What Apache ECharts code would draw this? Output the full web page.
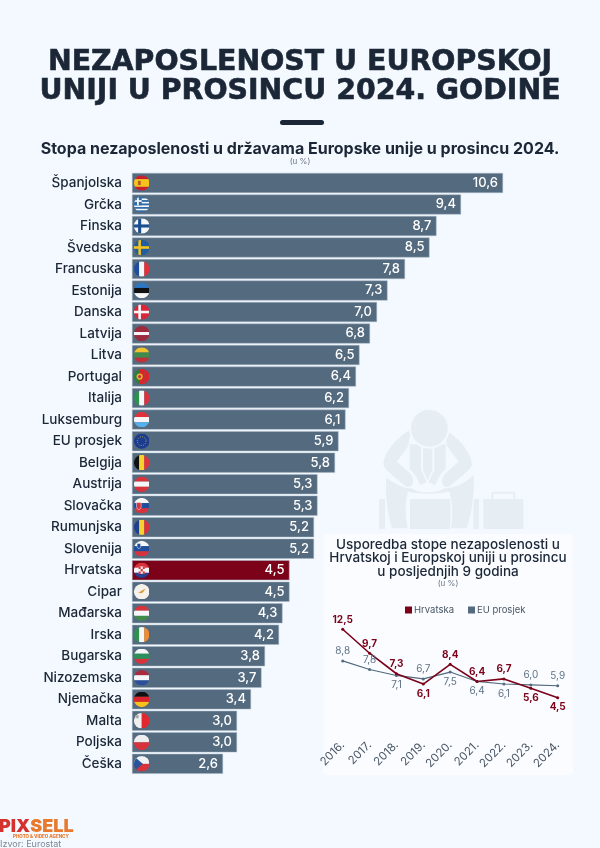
<!DOCTYPE html>
<html>
<head>
<meta charset="utf-8">
<style>html,body{margin:0;padding:0;background:#f3f9fe}#main{width:600px;height:848px}</style>
<script src="https://cdn.jsdelivr.net/npm/echarts@6/dist/echarts.min.js"></script>
</head>
<body>
<div id="main"></div>
<script>
var countries = ["Španjolska","Grčka","Finska","Švedska","Francuska","Estonija","Danska","Latvija","Litva","Portugal","Italija","Luksemburg","EU prosjek","Belgija","Austrija","Slovačka","Rumunjska","Slovenija","Hrvatska","Cipar","Mađarska","Irska","Bugarska","Nizozemska","Njemačka","Malta","Poljska","Češka"];
var rates = [10.6,9.4,8.7,8.5,7.8,7.3,7.0,6.8,6.5,6.4,6.2,6.1,5.9,5.8,5.3,5.3,5.2,5.2,4.5,4.5,4.3,4.2,3.8,3.7,3.4,3.0,3.0,2.6];
var years = ["2016.","2017.","2018.","2019.","2020.","2021.","2022.","2023.","2024."];
var hrvatska = [12.5,9.7,7.3,6.1,8.4,6.4,6.7,5.6,4.5];
var euProsjek = [8.8,7.8,7.1,6.7,7.5,6.4,6.1,6.0,5.9];
var hrLabelPos = ["top","top","top","bottom","top","top","top","bottom","bottom"];
var euLabelPos = ["top","top","bottom","top","bottom","bottom","bottom","top","top"];

var FONT = "Inter";
var BG = "#f3f9fe";
var DARK = "#1b2636";
var SLATE = "#546a7f";
var WINE = "#7b0219";
var GHOST = "#e6edf3";

// flags, drawn in a 30x30 box and clipped to a circle
function hs(c) { // horizontal stripes
    var h = 30 / c.length, s = "";
    c.forEach(function (x, i) { s += '<rect y="' + i * h + '" width="30" height="' + (h + 0.2) + '" fill="' + x + '"/>'; });
    return s;
}
function vs(c) { // vertical stripes
    var w = 30 / c.length, s = "";
    c.forEach(function (x, i) { s += '<rect x="' + i * w + '" width="' + (w + 0.2) + '" height="30" fill="' + x + '"/>'; });
    return s;
}
function cross(bg, col, w) {
    var s = '<rect width="30" height="30" fill="' + bg + '"/>';
    s += '<rect x="' + (11 - w / 2) + '" width="' + w + '" height="30" fill="' + col + '"/><rect y="' + (15 - w / 2) + '" width="30" height="' + w + '" fill="' + col + '"/>';
    return s;
}
var flags = {
    "Španjolska": hs(["#c8202c","#f6c21c","#f6c21c","#c8202c"]) + '<rect x="8" y="11" width="5" height="8" fill="#b5562a"/>',
    "Grčka": hs(["#2f6cae","#f4f8fb","#2f6cae","#f4f8fb","#2f6cae","#f4f8fb","#2f6cae","#f4f8fb","#2f6cae"]) + '<rect width="15" height="16.7" fill="#2f6cae"/><rect x="6" width="3.4" height="16.7" fill="#f4f8fb"/><rect y="6.6" width="15" height="3.4" fill="#f4f8fb"/>',
    "Finska": cross("#f4f6f8","#1c4f8f",6),
    "Švedska": cross("#1f5ea3","#f6c21c",5),
    "Francuska": vs(["#1f4e9c","#f4f6f8","#e1323c"]),
    "Estonija": hs(["#2c78c4","#111111","#f8f8f8"]),
    "Danska": cross("#d8263a","#f4f6f8",5),
    "Latvija": hs(["#9e2b3d","#9e2b3d","#f4f6f8","#9e2b3d","#9e2b3d"]),
    "Litva": hs(["#f2c12e","#3f8a4c","#bf3038"]),
    "Portugal": vs(["#2f7d3a","#d8262c","#d8262c"]) + '<circle cx="11" cy="15" r="6" fill="#e8b62c"/><circle cx="11" cy="15" r="3" fill="#c8303a"/>',
    "Italija": vs(["#2f9150","#f4f6f8","#d8323c"]),
    "Luksemburg": hs(["#e0323c","#f4f6f8","#55b0ec"]),
    "EU prosjek": '<rect width="30" height="30" fill="#1c3d8f"/><circle cx="15" cy="15" r="8.5" fill="none" stroke="#e8c82c" stroke-width="1.6" stroke-dasharray="1.6 2.85"/>',
    "Belgija": vs(["#111111","#f6d22e","#e0323c"]),
    "Austrija": hs(["#d8323c","#f4f6f8","#d8323c"]),
    "Slovačka": hs(["#f4f6f8","#1f4e9c","#d8323c"]) + '<path d="M5 9h9v8q0 4-4.500 6q-4.500-2-4.500-6z" fill="#d8323c" stroke="#f4f6f8"/>',
    "Rumunjska": vs(["#1f3f8f","#f6d22e","#d8323c"]),
    "Slovenija": hs(["#f4f6f8","#1f4e9c","#d8323c"]) + '<path d="M6 5h7v6q0 3-3.500 4q-3.500-1-3.500-4z" fill="#1f4e9c" stroke="#f4f6f8"/>',
    "Hrvatska": hs(["#d8323c","#f4f6f8","#27408f"]) + '<rect x="9" y="8" width="12" height="14" rx="2" fill="#f4f6f8"/><rect x="9" y="8" width="4" height="4.700" fill="#d8323c"/><rect x="17" y="8" width="4" height="4.700" fill="#d8323c"/><rect x="13" y="12.700" width="4" height="4.700" fill="#d8323c"/><rect x="9" y="17.400" width="4" height="4.600" fill="#d8323c"/><rect x="17" y="17.400" width="4" height="4.600" fill="#d8323c"/>',
    "Cipar": '<rect width="30" height="30" fill="#f4f2ea"/><path d="M8 16q6-1 8-4l7-3-4 5q-2 4-6 4z" fill="#d89a3c"/>',
    "Mađarska": hs(["#d8323c","#f4f6f8","#3f8a4c"]),
    "Irska": vs(["#2f9150","#f4f6f8","#f08c32"]),
    "Bugarska": hs(["#f4f6f8","#2f8f5c","#d8323c"]),
    "Nizozemska": hs(["#ab2b3d","#f4f6f8","#2a4f9c"]),
    "Njemačka": hs(["#111111","#d8262c","#f6c21c"]),
    "Malta": vs(["#f0eeee","#e0282e"]) + '<rect x="3" y="4" width="6" height="6" fill="#a8a8a8"/>',
    "Poljska": hs(["#eeeeee","#d8323c"]),
    "Češka": hs(["#f0f2f5","#d8323c"]) + '<path d="M0 0L17 15L0 30z" fill="#27559c"/>'
};
function svgUri(svg) {
    return "data:image/svg+xml;charset=utf-8," + encodeURIComponent(svg);
}
function flagIcon(name) {
    var svg = '<svg xmlns="http://www.w3.org/2000/svg" width="60" height="60" viewBox="0 0 30 30"><defs><clipPath id="c"><circle cx="15" cy="15" r="15"/></clipPath></defs><g clip-path="url(#c)">' + flags[name] + '</g></svg>';
    return "image://" + svgUri(svg);
}

// man with the briefcase behind the small chart
var half = '<path d="M108 72C70 95 30 135 25 178C28 195 75 230 95 245C115 250 122 225 105 205L65 170L100 122Z"/>'
    + '<path d="M104 118L138 118L138 195L156 232L135 240C128 222 120 205 106 195L104 190Z"/>';
var figure = '<svg xmlns="http://www.w3.org/2000/svg" width="465" height="390" viewBox="0 0 465 390" fill="' + GHOST + '">'
    + '<rect x="12" y="282" width="18" height="90"/><rect x="295" y="282" width="17" height="90"/><rect x="105" y="282" width="122" height="90"/>'
    + '<path d="M32 215C28 260 35 330 50 372L100 372C92 330 92 290 100 262C130 270 190 270 222 262C230 290 232 330 226 372L276 372C292 330 302 260 298 205C270 235 235 250 205 248C190 264 130 264 112 248C90 250 60 235 32 215Z" stroke="' + BG + '" stroke-width="4"/>'
    + half + '<g transform="matrix(-1 0 0 1 316 0)">' + half + '</g>'
    + '<path d="M144 122L172 122L172 195L158 226L144 195Z"/>'
    + '<circle cx="163" cy="70" r="58" stroke="' + BG + '" stroke-width="6"/>'
    + '<rect x="325" y="282" width="120" height="90" rx="3"/><rect x="352" y="263" width="66" height="22" rx="3" fill="none" stroke="' + GHOST + '" stroke-width="6"/>'
    + '</svg>';

var chart = echarts.init(document.getElementById("main"));

function txt(t, top, size, weight, color, left, align, font) {
    return {
        text: t, left: left === undefined ? 300 : left, top: top, textAlign: align || "center", padding: 0,
        textStyle: { fontFamily: font || FONT, fontSize: size, fontWeight: weight, color: color, lineHeight: size + 1 }
    };
}
function headline(t, top) {
    var o = txt(t, top, 28.4, 700, DARK, 300, "center", "DejaVu Sans");
    o.textStyle.textBorderColor = DARK;
    o.textStyle.textBorderWidth = 0.6;
    return o;
}
function comma(p) {
    return p.value.toFixed(1).replace(".", ",");
}
function lineSeries(name, values, pos, color, labelColor, width, weight) {
    return {
        name: name, type: "line", xAxisIndex: 1, yAxisIndex: 1,
        symbol: "circle", symbolSize: 3,
        itemStyle: { color: color }, lineStyle: { color: color, width: width },
        data: values.map(function (v, i) {
            return {
                value: v,
                label: { show: true, position: pos[i], distance: 3, color: labelColor, fontFamily: FONT, fontSize: 10, fontWeight: weight, formatter: comma }
            };
        })
    };
}

var logo = txt("{a|PIX}{b|SELL}", 817, 18, 900, "#d5322e", -1, "left");
logo.textStyle.rich = {
    a: { fontFamily: FONT, fontSize: 18, fontWeight: 900, color: "#d5322e" },
    b: { fontFamily: FONT, fontSize: 18, fontWeight: 900, color: "#e9792e" }
};

option = {
    backgroundColor: BG,
    animation: false,
    title: [
        headline("NEZAPOSLENOST U EUROPSKOJ", 48),
        headline("UNIJI U PROSINCU 2024. GODINE", 77),
        txt("Stopa nezaposlenosti u državama Europske unije u prosincu 2024.", 141, 16, 700, DARK),
        txt("(u %)", 157, 8, 400, "#6b7785"),
        txt("Usporedba stope nezaposlenosti u", 538, 13.5, 500, DARK, 448),
        txt("Hrvatskoj i Europskoj uniji u prosincu", 551, 13.5, 500, DARK, 448),
        txt("u posljednjih 9 godina", 565, 13.5, 500, DARK, 448),
        txt("(u %)", 579, 8, 400, "#6b7785", 448),
        logo,
        txt("PHOTO & VIDEO AGENCY", 834, 4.5, 800, "#e9792e", 13, "left"),
        txt("Izvor: Eurostat", 839, 9, 400, "#7d8793", 0, "left")
    ],
    graphic: [
        // dash under the title
        { type: "rect", z: -1, shape: { x: 280, y: 120, width: 44, height: 5, r: 2.5 }, style: { fill: DARK } },
        { type: "image", z: -2, style: { image: svgUri(figure), x: 375, y: 405, width: 155, height: 130 } },
        // white card of the small chart
        { type: "rect", z: -1, shape: { x: 323, y: 534, width: 250, height: 241, r: 4 }, style: { fill: "#fafcff" } }
    ],
    legend: {
        data: ["Hrvatska", "EU prosjek"],
        left: 405, top: 605, padding: 0,
        icon: "rect", itemWidth: 7, itemHeight: 7, itemGap: 14,
        textStyle: { fontFamily: FONT, fontSize: 9.5, color: "#4a5664", padding: [0, 0, 0, -3] }
    },
    grid: [
        { left: 132, top: 172.2, width: 385, height: 602.4 },
        { left: 342.7, top: 625, width: 215, height: 111.2 }
    ],
    xAxis: [
        { gridIndex: 0, type: "value", min: 0, max: 11, show: false },
        {
            gridIndex: 1, type: "category", data: years, boundaryGap: false,
            axisLine: { show: false }, axisTick: { show: false },
            axisLabel: { interval: 0, rotate: 45, margin: 7, fontFamily: FONT, fontSize: 11.5, color: "#4a5664" }
        }
    ],
    yAxis: [
        {
            gridIndex: 0, type: "category", data: countries, inverse: true,
            axisLine: { show: false }, axisTick: { show: false },
            axisLabel: { interval: 0, margin: 10, fontFamily: FONT, fontSize: 13.5, fontWeight: 500, color: DARK }
        },
        { gridIndex: 1, type: "value", min: 0, max: 13, show: false }
    ],
    series: [
        {
            type: "bar", xAxisIndex: 0, yAxisIndex: 0, barWidth: 20,
            itemStyle: { color: SLATE, borderColor: "#a9b8c6", borderWidth: 0.5 },
            label: { show: true, position: "insideRight", distance: 5, color: "#fff", fontFamily: FONT, fontSize: 13, fontWeight: 500, formatter: comma },
            data: rates.map(function (v, i) {
                return countries[i] === "Hrvatska" ? { value: v, itemStyle: { color: WINE } } : v;
            })
        },
        {
            // flags sit at the start of each bar
            type: "scatter", xAxisIndex: 0, yAxisIndex: 0, silent: true, z: 5,
            symbolSize: 15.5, symbolOffset: [9.7, 0], itemStyle: { opacity: 1 },
            data: countries.map(function (c) { return { value: [0, c], symbol: flagIcon(c) }; })
        },
        lineSeries("EU prosjek", euProsjek, euLabelPos, SLATE, "#5f7285", 1.2, 400),
        lineSeries("Hrvatska", hrvatska, hrLabelPos, WINE, WINE, 1.6, 700)
    ]
};

if (option && typeof option === "object") {
    chart.setOption(option, true);
}
</script>
</body>
</html>
